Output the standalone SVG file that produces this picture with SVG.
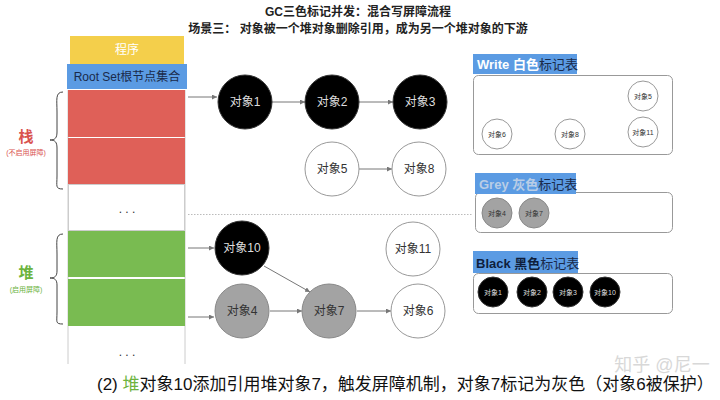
<svg xmlns="http://www.w3.org/2000/svg" width="720" height="400" viewBox="0 0 720 400">
<defs>
<marker id="ah" viewBox="0 0 6 6" refX="6" refY="3" markerWidth="5" markerHeight="5" orient="auto"><path d="M0,0 L6,3 L0,6 z" fill="#777"/></marker>
<style>
text{font-family:"Liberation Sans","Noto Sans CJK SC",sans-serif;}
.t{font-weight:bold;font-size:12px;fill:#222;text-anchor:middle;}
.c{stroke-width:1;}
.blk{fill:#000;stroke:#333;}
.wht{fill:#fff;stroke:#999;}
.gry{fill:#a3a3a3;stroke:#888;}
.lb{font-size:12px;text-anchor:middle;dominant-baseline:central;}
.sl{font-size:7px;text-anchor:middle;dominant-baseline:central;}
.edge{stroke:#777;stroke-width:1;fill:none;marker-end:url(#ah);}
.tbl{fill:#fff;stroke:#999;stroke-width:1;}
.tag{fill:#5b9be3;}
</style>
</defs>
<rect width="720" height="400" fill="#fff"/>
<text class="t" x="358" y="16">GC三色标记并发：混合写屏障流程</text>
<text class="t" x="358" y="33">场景三： 对象被一个堆对象删除引用，成为另一个堆对象的下游</text>

<g id="column">
<line x1="68" y1="90" x2="68" y2="364" stroke="#ccc"/>
<line x1="185" y1="90" x2="185" y2="364" stroke="#ccc"/>
<rect x="70" y="36" width="114" height="28" fill="#f4cf4b"/>
<text x="127" y="50" class="lb" fill="#fff">程序</text>
<rect x="67" y="64" width="120" height="25" fill="#5b9be3"/>
<text x="127" y="77" class="lb" fill="#1a2a4a">Root Set根节点集合</text>
<rect x="68" y="90" width="117" height="47" fill="#df6058"/>
<rect x="68" y="138" width="117" height="46" fill="#df6058"/>
<rect x="68.5" y="184.5" width="116" height="46" fill="#fff" stroke="#ccc"/>
<text x="127" y="213" font-size="12" text-anchor="middle" fill="#333">. . .</text>
<rect x="68" y="231" width="117" height="46" fill="#79bb51"/>
<rect x="68" y="279" width="117" height="47" fill="#79bb51"/>
<text x="127" y="356" font-size="12" text-anchor="middle" fill="#333">. . .</text>
</g>

<g id="stack-label">
<path d="M63,92 C55,92 57,100 57,112 L57,132 C57,138 55,140 50,140 C55,140 57,142 57,148 L57,176 C57,186 55,189 63,189" fill="none" stroke="#444" stroke-width="1"/>
<text x="26" y="142" font-size="15" font-weight="bold" text-anchor="middle" fill="#d9534f">栈</text>
<text x="26" y="155" font-size="7" text-anchor="middle" fill="#d9534f">(不启用屏障)</text>
</g>
<g id="heap-label">
<path d="M63,234 C55,234 57,242 57,254 L57,271 C57,276 55,278 50,278 C55,278 57,280 57,285 L57,312 C57,322 55,324 63,324" fill="none" stroke="#444" stroke-width="1"/>
<text x="26" y="278" font-size="15" font-weight="bold" text-anchor="middle" fill="#6cb33e">堆</text>
<text x="26" y="292" font-size="7" text-anchor="middle" fill="#6cb33e">(启用屏障)</text>
</g>

<line x1="188" y1="214.5" x2="473" y2="214.5" stroke="#bbb" stroke-dasharray="1.5,1.5"/>

<g id="connectors">
<line class="edge" x1="188" y1="97" x2="217" y2="97"/>
<line class="edge" x1="188" y1="248" x2="214" y2="248"/>
<line class="edge" x1="188" y1="317" x2="214" y2="317"/>
<line class="edge" x1="272" y1="102" x2="305" y2="102"/>
<line class="edge" x1="359" y1="102" x2="393" y2="102"/>
<line class="edge" x1="359" y1="169" x2="392" y2="169"/>
<line class="edge" x1="264" y1="266" x2="310" y2="292"/>
<line class="edge" x1="270" y1="311" x2="302" y2="311"/>
<line class="edge" x1="357" y1="311" x2="391" y2="311"/>
</g>

<g id="obj1"><circle class="c blk" cx="245" cy="102" r="27"/><text class="lb" x="245" y="102" fill="#ddd">对象1</text></g>
<g id="obj2"><circle class="c blk" cx="332" cy="102" r="27"/><text class="lb" x="332" y="102" fill="#ddd">对象2</text></g>
<g id="obj3"><circle class="c blk" cx="420" cy="102" r="27"/><text class="lb" x="420" y="102" fill="#ddd">对象3</text></g>
<g id="obj5"><circle class="c wht" cx="332" cy="169" r="27"/><text class="lb" x="332" y="169" fill="#333">对象5</text></g>
<g id="obj8"><circle class="c wht" cx="419" cy="169" r="27"/><text class="lb" x="419" y="169" fill="#333">对象8</text></g>
<g id="obj10"><circle class="c blk" cx="242" cy="248" r="27"/><text class="lb" x="242" y="248" fill="#ddd">对象10</text></g>
<g id="obj11"><circle class="c wht" cx="413" cy="249" r="27"/><text class="lb" x="413" y="249" fill="#333">对象11</text></g>
<g id="obj4"><circle class="c gry" cx="242" cy="311" r="27"/><text class="lb" x="242" y="311" fill="#333">对象4</text></g>
<g id="obj7"><circle class="c gry" cx="329" cy="311" r="27"/><text class="lb" x="329" y="311" fill="#333">对象7</text></g>
<g id="obj6"><circle class="c wht" cx="418" cy="311" r="27"/><text class="lb" x="418" y="311" fill="#333">对象6</text></g>

<g id="white-table">
<rect class="tbl" x="473.5" y="75.5" width="199" height="79" rx="5"/>
<rect class="tag" x="473" y="54" width="104" height="20"/>
<text x="477" y="69" font-size="13" font-weight="bold"><tspan fill="#fff">Write 白色</tspan><tspan fill="#1a2a4a" font-weight="normal">标记表</tspan></text>
<circle class="c wht" cx="643" cy="96" r="15"/><text class="sl" x="643" y="96" fill="#333">对象5</text>
<circle class="c wht" cx="497" cy="134" r="15"/><text class="sl" x="497" y="134" fill="#333">对象6</text>
<circle class="c wht" cx="570" cy="134" r="15"/><text class="sl" x="570" y="134" fill="#333">对象8</text>
<circle class="c wht" cx="643" cy="132" r="15"/><text class="sl" x="643" y="132" fill="#333">对象11</text>
</g>

<g id="grey-table">
<rect class="tbl" x="475.5" y="192.5" width="197" height="40" rx="5"/>
<rect class="tag" x="475" y="173" width="101" height="21"/>
<text x="479" y="189" font-size="13" font-weight="bold"><tspan fill="#b9cde6">Grey 灰色</tspan><tspan fill="#1a2a4a" font-weight="normal">标记表</tspan></text>
<circle class="c gry" cx="497" cy="213" r="15"/><text class="sl" x="497" y="213" fill="#333">对象4</text>
<circle class="c gry" cx="534" cy="213" r="15"/><text class="sl" x="534" y="213" fill="#333">对象7</text>
</g>

<g id="black-table">
<rect class="tbl" x="473.5" y="273.5" width="199" height="40" rx="5"/>
<rect class="tag" x="473" y="251" width="105" height="22"/>
<text x="476" y="268" font-size="13" font-weight="bold"><tspan fill="#0f1f3d">Black 黑色</tspan><tspan fill="#1a2a4a" font-weight="normal">标记表</tspan></text>
<circle class="c blk" cx="493" cy="292" r="15"/><text class="sl" x="493" y="292" fill="#ddd">对象1</text>
<circle class="c blk" cx="532" cy="292" r="15"/><text class="sl" x="532" y="292" fill="#ddd">对象2</text>
<circle class="c blk" cx="568" cy="292" r="15"/><text class="sl" x="568" y="292" fill="#ddd">对象3</text>
<circle class="c blk" cx="605" cy="292" r="15"/><text class="sl" x="605" y="292" fill="#ddd">对象10</text>
</g>

<text x="662" y="371" font-size="18" text-anchor="middle" fill="#d8d8d8">知乎 @尼一</text>
<text x="97" y="390" font-size="17" fill="#111">(2) <tspan fill="#6cb33e">堆</tspan>对象10添加引用堆对象7，触发屏障机制，对象7标记为灰色（对象6被保护）</text>
</svg>
